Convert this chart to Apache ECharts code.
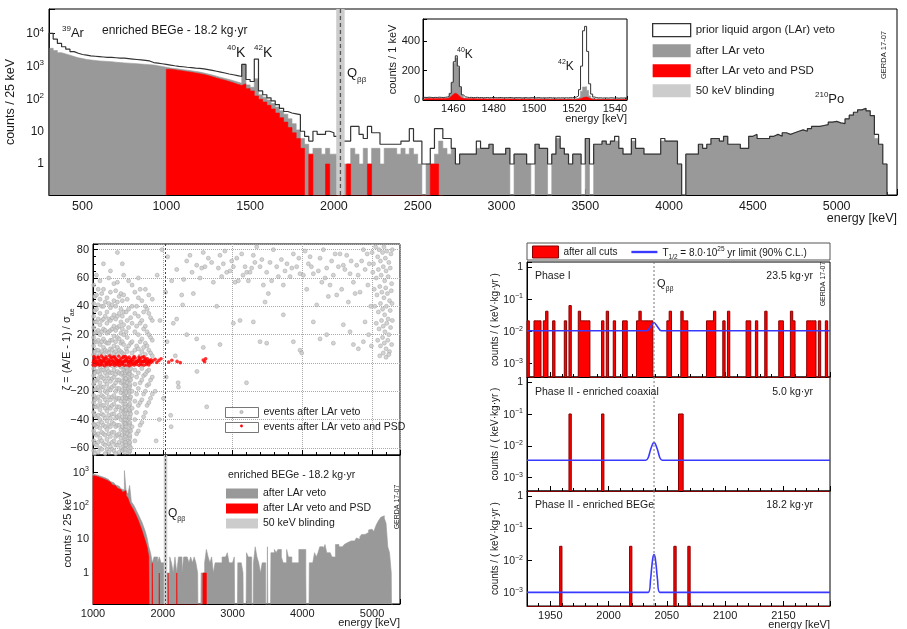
<!DOCTYPE html>
<html><head><meta charset="utf-8">
<script src="https://cdn.jsdelivr.net/npm/echarts@6/dist/echarts.min.js"></script>
<style>html,body{margin:0;padding:0;background:#fff}#c{width:907px;height:629px}</style>
</head><body><div id="c"></div>
<script>
// ---------------- DATA ----------------
// 25 keV bins, bin starts 300 ... 5275 (enriched BEGe, 18.2 kg·yr)
const histStart = 300, histWidth = 25;
const priorCounts = [
 9800,6500,4800,3800, 3200,2700,2400,2200, 2100,2000,1950,1900, 1850,1800,1800,1750,
 1700,1700,1650,1600, 1550,1500,1450,1400, 1250,1200,1150,1100, 1050,1000,960,930,
 900,880,850,830, 800,760,720,680, 640,600,560,530, 500,470,1100,380,
 330,1600,170,130, 105,85,65,50, 40,36,34,32, 10,7,5,10,
 8,8,10,9, 7,0,5,5, 14,14,8,6, 14,9,9,4,
 4,4,4,4, 5,5,12,5, 5,1,1,3, 12,12,6,6,
 3,1,2,2, 2,2,5,3, 3,4,2,2, 2,3,1,2,
 2,2,1,1, 4,3,3,1, 2,7,3,2, 1,2,2,1,
 6,1,4,4, 5,4,5,7, 3,2,2,6, 3,3,2,2,
 2,2,6,5, 5,5,1,0, 2,2,2,4, 3,4,6,6,
 5,7,4,4, 4,3,3,7, 8,6,6,6, 7,8,7,9,
 8,9,10,11, 10,12,14,14, 15,16,19,20, 18,17,24,31,
 38,45,50,42, 30,8,4,1
];
const afterLArCounts = [
 3400,2900,2500,2300, 2100,1900,1750,1650, 1550,1500,1450,1400, 1380,1350,1320,1280,
 1250,1220,1200,1180, 1150,1120,1100,1080, 1050,1000,950,900, 850,820,790,760,
 730,700,670,640, 600,560,520,480, 440,410,380,350, 320,290,1100,260,
 220,400,130,110, 90,70,55,42, 33,24,17,11, 6,4,2,3,
 3,2,3,2, 2,0,1,1, 3,2,1,3, 1,3,3,1,
 3,3,3,2, 3,2,3,2, 1,0,1,1, 2,5,3,2,
 3,1,2,2, 2,2,3,3, 3,4,2,2, 2,3,0,2,
 2,2,1,0, 4,3,3,0, 2,6,3,2, 1,2,2,0,
 6,0,4,4, 5,4,5,5, 3,2,2,5, 3,3,2,2,
 2,2,5,5, 5,5,1,0, 2,2,2,4, 3,4,6,6,
 5,7,4,4, 4,3,3,7, 7,6,6,6, 7,8,7,9,
 8,9,10,11, 10,12,14,14, 15,16,19,20, 18,17,24,31,
 38,45,50,42, 30,6,4,1
];
// after LAr veto and PSD, bin starts 1000 ... 2625
const psdStart = 1000;
const afterPSDCounts = [
 780,750,720,690, 660,630,600,570, 540,500,460,420, 390,360,330,300,
 270,250,280,200, 170,120,95,78, 62,48,36,26, 19,13,9,6,
 3,0,2,0, 0,0,1,0, 0,0,0,1, 0,0,0,0,
 1,0,0,0, 0,0,0,0, 0,0,0,0, 0,0,0,1, 1,0
];
// inset: 1 keV bins, starts 1445 ... 1545
const insetStart = 1445;
const insetPrior = [
 18,17,19,18,16,18,17,19,18,17, 18,20,24,45,120,260,300,230,90,35,
 22,19,17,18,16,17,18,16,17,15, 16,17,15,16,18,16,15,17,16,15,
 16,15,17,16,14,16,15,16,14,15, 16,14,15,16,15,14,16,15,14,15,
 14,15,16,14,15,13,15,14,15,14, 15,14,16,15,17,20,28,70,230,470,
 500,330,110,40,20,16,14,15,13,14, 14,13,15,14,13,14,12,14,13,14,13
];
const insetAfterLAr = [
 11,10,12,11,10,11,10,12,11,10, 11,13,18,40,115,250,285,220,85,30,
 14,12,10,11,10,11,10,9,10,9, 10,9,10,9,10,9,9,10,9,8,
 9,9,10,9,8,9,9,8,9,8, 9,8,9,8,9,8,8,9,8,8,
 8,9,8,8,7,8,8,7,8,8, 7,8,8,7,8,9,12,25,60,88,
 90,65,28,12,8,7,8,7,7,6, 7,6,7,6,7,6,6,7,6,6,6
];
const insetAfterPSD = [
 9,8,10,9,8,9,8,10,9,8, 9,10,14,25,38,46,40,28,15,10,
 9,8,8,9,8,8,7,8,7,7, 7,6,7,6,7,6,6,7,6,6,
 6,5,6,6,5,6,5,5,6,5, 5,5,6,5,5,4,5,5,4,5,
 4,5,4,4,5,4,4,5,4,4, 4,4,5,4,4,5,6,9,14,18,
 20,15,9,5,4,4,3,4,3,3, 3,4,3,3,3,3,2,3,3,3,3
];
const Qbb = 2039;
const blindWindow = [2014, 2064];

// PSD parameter scatter: gray = events after LAr veto (columns: energy, list of zeta)
const grayColumns = [
 [1010,[-62,-55,-48,-43,-35,-28,-23,-15,-9,-4,6,12,18,25,33,42,55]],
 [1025,[-64,-57,-50,-44,-37,-31,-26,-19,-13,-7,-2,8,15,21,29,37,47]],
 [1050,[-58,-51,-45,-38,-31,-25,-18,-12,-6,5,9,15,22,29,38,48,62]],
 [1075,[-63,-56,-50,-43,-37,-30,-24,-17,-11,-6,-1,9,16,23,31,41,52]],
 [1100,[-60,-53,-46,-40,-33,-27,-20,-14,-8,-3,7,13,20,27,35,45,58]],
 [1125,[-61,-55,-49,-42,-36,-30,-23,-17,-10,-5,-1,8,15,22,30,40,49]],
 [1150,[-57,-50,-44,-37,-30,-24,-17,-11,-5,6,11,17,24,31,40,52,70]],
 [1175,[-64,-58,-51,-45,-39,-32,-26,-20,-13,-7,-2,9,15,23,33,43]],
 [1200,[-61,-54,-47,-41,-34,-28,-21,-15,-9,-4,8,14,21,28,36,46]],
 [1225,[-63,-57,-50,-44,-37,-31,-24,-18,-11,-6,-1,7,14,22,31,42,60]],
 [1250,[-59,-52,-45,-39,-32,-26,-19,-13,-7,5,10,16,23,30,39,50,65]],
 [1275,[-61,-56,-49,-42,-36,-30,-24,-17,-11,-7,-2,9,16,24,32,41]],
 [1300,[-62,-55,-49,-43,-36,-29,-23,-16,-10,-5,7,12,19,26,34,44,56]],
 [1325,[-64,-58,-52,-45,-39,-33,-26,-20,-14,-8,-2,8,15,23,31,40,51]],
 [1350,[-58,-51,-44,-38,-31,-25,-18,-12,-6,6,11,18,25,33,43,57,78]],
 [1375,[-63,-56,-50,-44,-37,-31,-25,-18,-12,-7,-1,9,17,26,35,47]],
 [1400,[-60,-53,-47,-40,-34,-27,-21,-14,-8,-3,8,14,21,29,38,49]],
 [1420,[-62,-57,-51,-45,-38,-32,-25,-19,-13,-7,-2,7,15,24,33,44,70]],
 [1440,[-61,-55,-48,-42,-35,-29,-22,-16,-10,-5,6,13,20,27,36,48,62]],
 [1460,[-63,-60,-58,-54,-51,-49,-45,-42,-40,-36,-33,-31,-27,-24,-22,-18,-15,-13,-9,-6,-3]],
 [1466,[-61,-56,-52,-47,-43,-38,-34,-29,-25,-20,-16,-11,-7]],
 [1475,[-58,-45,-33,-21,-11,-3,10,22,36]],
 [1490,[-50,-38,-25,-14,-6,8,18,30,45]],
 [1510,[-55,-42,-30,-18,-8,12,25,38,58]],
 [1521,[-63,-57,-52,-48,-43,-39,-34,-30,-25,-21,-16,-12,-7]],
 [1527,[-62,-59,-56,-53,-51,-47,-44,-42,-38,-35,-33,-29,-26,-24,-20,-17,-15,-11,-8,-5,-2]],
 [1540,[-60,-48,-36,-24,-12,-4,14,32]],
 [1560,[-45,-32,-20,-9,7,15,28,40,55]],
 [1600,[-55,-40,-27,-15,-5,9,22,35,50]],
 [1625,[-50,-35,-22,-10,12,26,40]],
 [1650,[-48,-30,-18,-7,10,20,33,46,60]],
 [1675,[-44,-28,-14,5,15,28,52]],
 [1700,[-42,-26,-12,-4,8,17,30,44]],
 [1725,[-38,-22,-9,11,24,36]],
 [1750,[-35,-20,-8,6,14,26,40,52]],
 [1775,[-30,-16,-6,12,22,38]],
 [1800,[-28,-15,-5,9,20,35,48]],
 [1825,[-25,-12,7,18,32]],
 [1850,[-22,-10,5,16,30,45]]
];
const grayScatterHigh = [
 [2128,58],[2151,28],[2271,48],[2285,41],[2343,72],[2390,76],[2438,49],[2486,69],[2534,60],[2558,67],
 [2605,68],[2653,74],[2725,57],[2797,67],[2820,76],[2844,61],[2868,70],[2916,64],[2964,65],[2988,72],
 [3012,68],[3036,57],[3083,58],[3131,77],[3179,68],[3203,64],[3227,58],[3250,64],[3274,67],[3298,76],
 [3346,82],[3394,68],[3442,55],[3466,43],[3489,64],[3513,49],[3537,71],[3585,80],[3633,68],[3657,61],
 [3728,55],[3752,65],[3824,61],[3872,77],[3919,68],[3967,63],[4015,62],[4063,52],[4087,70],[4111,75],
 [4158,63],[4206,41],[4254,74],[4302,80],[4326,60],[4349,67],[4373,47],[4397,55],[4445,62],[4493,48],
 [4517,68],[4540,77],[4564,52],[4588,69],[4636,76],[4660,43],[4684,63],[4732,57],[4756,49],[4779,69],
 [4827,50],[4875,80],[2200,66],[2300,59],[2420,64],[2580,78],[2700,71],[2890,79],[3060,74],[3150,62],
 [3320,71],[3420,73],[3560,58],[3700,73],[3780,70],[3850,67],[3950,74],[4040,79],[4130,68],[4230,65],
 [4280,57],[4420,72],[4470,77],[4610,66],[4700,72],[4800,62],[4850,72],[4900,66],[4930,77]
];
const grayScatterMid = [
 [2199,31],[2343,20],[2486,17],[2581,11],[2773,40],[2820,13],[3012,28],[3107,30],[3298,29],[3394,15],
 [3489,14],[3728,34],[3872,15],[3967,9],[3991,7],[4158,29],[4254,17],[4349,20],[4445,14],[4588,27],
 [4684,22],[4732,13],[4803,10],[4875,15],[4899,29],[2113,-37],[2220,-14],[2225,-17],[2490,-6],[2630,-31],
 [2120,-45],[3200,-14],[1905,-55],[1950,-40],[2010,-25],[1890,-20],[2050,-10],[2180,5],[2060,15],[1960,30],
 [2040,50],[1920,62],[2070,75],[1990,80]
];
const grayScatterAlpha = [
 [5000,78],[5020,70],[5050,82],[5080,75],[5100,80],[5120,72],[5150,78],[5170,82],[5190,74],[5210,79],[5240,71],[5270,77],[5290,80],
 [5010,64],[5060,60],[5090,66],[5130,62],[5160,68],[5180,58],[5200,65],[5230,61],[5260,67],[5280,56],
 [5030,52],[5070,48],[5110,54],[5140,50],[5170,46],[5195,53],[5220,49],[5250,44],[5275,51],
 [5040,40],[5090,36],[5120,42],[5150,38],[5180,34],[5205,40],[5230,31],[5260,37],[5285,42],
 [5060,28],[5100,24],[5135,30],[5160,26],[5185,22],[5210,28],[5240,20],[5265,25],[5290,30],
 [5080,16],[5120,12],[5150,18],[5175,14],[5200,10],[5225,16],[5250,8],[5280,13],
 [5110,5],[5160,7],[5200,4],[5240,6],[4960,70],[4940,55],[4980,40],[4950,20],[4990,12]
];
const redScatter = [
 [1005,0.5],[1040,2.8],[1075,-0.5],[1110,1.9],[1145,3.6],[1180,0.2],[1215,2.4],[1250,-0.8],[1285,1.5],[1320,3.2],[1355,0.6],[1390,2.1],
 [1425,-0.3],[1460,1.8],[1495,3.4],[1530,0.4],[1565,2.6],[1600,-0.6],[1635,1.4],[1670,3.1],[1705,0.8],[1740,2.2],[1775,-0.2],[1810,1.6],
 [1020,3.5],[1055,-0.2],[1090,2.2],[1125,0.4],[1160,2.9],[1195,-0.7],[1230,1.2],[1265,3.8],[1300,0.1],[1335,2.5],[1370,-0.4],[1405,3.3],
 [1440,0.9],[1475,2.7],[1510,-0.1],[1545,1.3],[1580,3.7],[1615,0.3],[1650,2.0],[1685,-0.5],[1720,1.1],[1755,3.0],[1790,0.7],[1830,2.3],
 [1010,1.8],[1045,0.9],[1080,3.9],[1115,-0.9],[1150,1.5],[1185,3.2],[1220,0.0],[1255,2.7],[1290,4.2],[1325,-0.6],[1360,1.9],[1395,0.5],
 [1430,3.6],[1465,4.5],[1500,1.0],[1535,2.4],[1570,-0.4],[1605,3.5],[1640,0.8],[1675,2.6],[1710,4.0],[1745,1.2],[1780,2.9],[1815,0.0],
 [1000,-1.4],[1030,-1.8],[1060,-1.1],[1095,-1.6],[1130,-1.3],[1165,-1.9],[1200,-1.2],[1240,-1.5],[1275,-1.0],[1310,-1.7],[1345,-1.3],[1380,-1.8],
 [1415,-1.1],[1450,-1.6],[1485,-1.4],[1520,-1.9],[1555,-1.2],[1590,-1.5],[1625,-1.0],[1660,-1.7],[1695,-1.3],[1730,-1.6],[1765,-1.1],[1800,-1.4],
 [1025,1.0],[1060,1.2],[1100,0.9],[1135,1.1],[1170,1.3],[1205,0.8],[1245,1.0],[1280,1.2],[1315,0.9],[1350,1.1],[1385,1.3],[1420,0.8],
 [1455,1.0],[1490,1.2],[1525,0.9],[1560,1.1],[1595,1.3],[1630,0.8],[1665,1.0],[1700,1.2],[1735,0.9],[1770,1.1],[1805,1.3],[1840,0.6],
 [1015,4.6],[1070,4.2],[1120,4.8],[1190,4.4],[1240,4.9],[1310,4.3],[1370,4.7],[1440,4.5],[1520,4.1],[1590,4.6],[1660,4.2],[1730,4.4],
 [1860,1.5],[1890,2.6],[1915,0.4],[1945,1.8],[1975,3.0],[2085,0.6],[2130,1.9],[2205,1.1],[2250,0.2],[2580,2.0],[2600,0.8],[2615,2.9]
];

// ROI 1930-2190 keV, 2 keV bins: [bin start, counts]
const roiStart = 1930, roiEnd = 2190, roiBin = 2;
const phase1Exposure = 23.5, coaxExposure = 5.0, begeExposure = 18.2;
const phase1Events = [[1930,1],[1936,1],[1938,1],[1940,1],[1944,1],[1946,2],[1952,1],[1962,1],[1966,3],[1974,2],[1976,1],[1978,1],
 [1980,1],[1982,1],[1994,1],[1998,2],[2004,1],[2012,1],[2014,1],[2024,1],[2026,2],[2028,1],[2030,1],[2032,1],[2034,1],[2036,1],
 [2050,1],[2052,2],[2062,2],[2064,1],[2066,1],[2084,1],[2086,1],[2088,1],[2090,2],[2098,1],[2102,2],[2118,1],[2120,1],[2126,1],
 [2134,2],[2146,1],[2148,1],[2156,2],[2158,1],[2170,1],[2172,1],[2174,1],[2176,1],[2180,1],[2186,1]];
const coaxEvents = [[1966,1],[1994,1],[2060,1],[2062,1]];
const begeEvents = [[1958,1],[2018,1],[2056,1],[2068,1]];
const phase1Limit = [[1930,0.0105],[2033,0.0105],[2036,0.014],[2039,0.019],[2042,0.014],[2045,0.0105],[2190,0.0105]];
const coaxLimit = [[1930,0.0035],[2032,0.0035],[2034,0.0042],[2036,0.0075],[2038,0.0118],[2039,0.0125],[2040,0.0118],[2042,0.0075],[2044,0.0042],[2046,0.0035],[2190,0.0035]];
const begeLimit = [[1930,0.00101],[2034,0.00101],[2036,0.0025],[2037,0.006],[2038,0.012],[2039,0.0152],[2040,0.012],[2041,0.006],[2042,0.0025],[2044,0.00101],[2190,0.00101]];

// ---------------- HELPERS ----------------
const FONT = '"Liberation Sans", Arial, Helvetica, sans-serif';
const TXT = '#1a1a1a';
const GRAY = '#999999', RED = '#ff0000', DARKRED = '#8b0000', LIGHT = '#cccccc', BLUE = '#3a3aff';
const TINY = 1e-7;

function stepPoints(start, width, values, zero) {
  const pts = [[start, zero]];
  for (let i = 0; i < values.length; i++) pts.push([start + i * width, values[i] > 0 ? values[i] : zero]);
  const end = start + values.length * width;
  const last = values[values.length - 1];
  pts.push([end, last > 0 ? last : zero]);
  pts.push([end, zero]);
  return pts;
}
function denseRoi(events, exposure) {
  const n = (roiEnd - roiStart) / roiBin;
  const arr = new Array(n).fill(0);
  events.forEach(([x, c]) => { arr[Math.round((x - roiStart) / roiBin)] = c / (roiBin * exposure); });
  return arr;
}
function isObj(o){return o && typeof o === 'object' && !Array.isArray(o);}
function merge(a, b) { const r = Object.assign({}, a); for (const k in b) { r[k] = (isObj(a[k]) && isObj(b[k])) ? merge(a[k], b[k]) : b[k]; } return r; }

function powLabel(v) {
  const l = Math.log10(v), e = Math.round(l);
  if (Math.abs(l - e) > 1e-6) return '';
  if (e === 0) return '1';
  if (e === 1) return '10';
  return '{b|10}{s|' + (e < 0 ? '\u2212' + (-e) : e) + '}';
}
function powRich(fs) {
  return { b: { fontSize: fs, fontFamily: FONT, color: TXT, lineHeight: fs + 2, padding: [3, 0, 0, 0], verticalAlign: 'bottom' },
           s: { fontSize: Math.round(fs * 0.68), fontFamily: FONT, color: TXT, lineHeight: Math.round(fs * 0.68), verticalAlign: 'top' } };
}
const baseAxis = {
  axisLine: { show: true, onZero: false, lineStyle: { color: '#000', width: 1 } },
  axisTick: { show: true, inside: true, length: 6, lineStyle: { color: '#000', width: 1 } },
  splitLine: { show: false },
  axisLabel: { color: TXT, fontFamily: FONT, fontSize: 12, margin: 5, interval: 0, hideOverlap: false },
  nameTextStyle: { color: TXT, fontFamily: FONT, fontSize: 12 },
  nameMoveOverlap: false
};
function xAx(o) { return merge(merge(baseAxis, { type: 'value', position: 'bottom' }), o); }
function yAx(o) { return merge(merge(baseAxis, { position: 'left' }), o); }
function grid(l, t, w, h, extra) { return Object.assign({ left: l, top: t, width: w, height: h, show: true, borderColor: '#000', borderWidth: 1, backgroundColor: 'transparent', containLabel: false, outerBoundsMode: 'none' }, extra || {}); }

function bandSeries(xi, yi, name) {
  return { type: 'custom', name: name, xAxisIndex: xi, yAxisIndex: yi, z: 6, silent: true,
    data: [[blindWindow[0], blindWindow[1]]],
    renderItem(params, api) {
      const cs = params.coordSys;
      const a = api.coord([api.value(0), 1]), b = api.coord([api.value(1), 1]);
      const x0 = Math.max(a[0], cs.x), x1 = Math.min(b[0], cs.x + cs.width);
      return { type: 'rect', shape: { x: x0, y: cs.y, width: x1 - x0, height: cs.height }, style: { fill: LIGHT } };
    } };
}
function vLineSeries(xi, yi, color, dash, width) {
  return { type: 'custom', name: 'Qbb', xAxisIndex: xi, yAxisIndex: yi, z: 7, silent: true,
    data: [[Qbb, 1]],
    renderItem(params, api) {
      const cs = params.coordSys; const p = api.coord([api.value(0), 1]);
      return { type: 'line', shape: { x1: p[0], y1: cs.y, x2: p[0], y2: cs.y + cs.height }, style: { stroke: color, lineWidth: width, lineDash: dash } };
    } };
}
function areaHist(name, xi, yi, pts, color, z) {
  return { type: 'line', name: name, xAxisIndex: xi, yAxisIndex: yi, step: 'end', data: pts, symbol: 'none', showSymbol: false,
    lineStyle: { color: color, width: 0.6 }, itemStyle: { color: color }, areaStyle: { color: color, opacity: 1, origin: 'start' }, z: z, clip: true, silent: true };
}
function lineHist(name, xi, yi, pts, color, width, z) {
  return { type: 'line', name: name, xAxisIndex: xi, yAxisIndex: yi, step: 'end', data: pts, symbol: 'none', showSymbol: false,
    lineStyle: { color: color, width: width }, itemStyle: { color: color }, z: z, clip: true, silent: true };
}

// ---------------- BUILD ----------------
const N_PRIOR = 'prior liquid argon (LAr) veto', N_LAR = 'after LAr veto', N_PSD = 'after LAr veto and PSD', N_BLIND = '50 keV blinding';
const N_CUTS = 'after all cuts', N_LIM = 'T1/2 = 8.0\u00b710^25 yr limit (90% C.L.)';

const grayScatter = [];
grayColumns.forEach(([x, ys]) => ys.forEach(y => grayScatter.push([x, y])));
grayScatterHigh.concat(grayScatterMid, grayScatterAlpha).forEach(p => grayScatter.push(p));

const topY = { min: 0.113, max: 54000 };
const blY = { min: 0.12, max: 3200 };
const roiY = { min: 0.00038, max: 1.45 };

const grids = [
  grid(49, 9, 848, 186),           // 0 top spectrum
  grid(423, 19, 204, 81, { backgroundColor: '#fff', z: 10 }), // 1 inset
  grid(93, 244, 307, 211),         // 2 scatter
  grid(93, 455, 307, 149),         // 3 BL hist
  grid(527, 262, 303, 115),        // 4 phase I
  grid(527, 377, 303, 114),        // 5 coax
  grid(527, 491, 303, 115)         // 6 BEGe
];

const xAxes = [
  xAx({ gridIndex: 0, min: 300, max: 5360, splitNumber: 10, minorTick: { show: true, splitNumber: 5, length: 3, lineStyle: { color: '#000' } },
        axisLabel: { formatter: v => (v % 500 === 0 ? String(v) : ''), fontSize: 12.5 },
        name: 'energy [keV]', nameLocation: 'end', nameGap: 0, nameTextStyle: { align: 'right', verticalAlign: 'top', padding: [17, 0, 0, 0], fontSize: 12.5 } }),
  xAx({ gridIndex: 1, min: 1445, max: 1546, splitNumber: 5, z: 11, minorTick: { show: true, splitNumber: 4, length: 2, lineStyle: { color: '#000' } },
        axisTick: { length: 4 }, axisLabel: { formatter: v => (v % 20 === 0 ? String(v) : ''), fontSize: 11, margin: 3 },
        name: 'energy [keV]', nameLocation: 'end', nameGap: 0, nameTextStyle: { align: 'right', verticalAlign: 'top', padding: [13, 0, 0, 0], fontSize: 11 } }),
  xAx({ gridIndex: 2, min: 1000, max: 5400, splitNumber: 4, axisLabel: { show: false }, axisTick: { length: 5 },
        minorTick: { show: true, splitNumber: 5, length: 3, lineStyle: { color: '#000' } },
        splitLine: { show: true, lineStyle: { color: '#aaa', type: 'dotted', width: 1 } } }),
  xAx({ gridIndex: 3, min: 1000, max: 5400, splitNumber: 4, axisTick: { length: 5 },
        minorTick: { show: true, splitNumber: 5, length: 3, lineStyle: { color: '#000' } },
        axisLabel: { formatter: v => (v % 1000 === 0 ? String(v) : ''), fontSize: 11, margin: 4 },
        name: 'energy [keV]', nameLocation: 'end', nameGap: 0, nameTextStyle: { align: 'right', verticalAlign: 'top', padding: [13, 0, 0, 0], fontSize: 11 } }),
  xAx({ gridIndex: 4, min: roiStart, max: roiEnd, splitNumber: 5, axisLabel: { show: false }, axisTick: { length: 5 }, minorTick: { show: true, splitNumber: 5, length: 3, lineStyle: { color: '#000' } } }),
  xAx({ gridIndex: 5, min: roiStart, max: roiEnd, splitNumber: 5, axisLabel: { show: false }, axisTick: { length: 5 }, minorTick: { show: true, splitNumber: 5, length: 3, lineStyle: { color: '#000' } } }),
  xAx({ gridIndex: 6, min: roiStart, max: roiEnd, splitNumber: 5, axisTick: { length: 5 }, minorTick: { show: true, splitNumber: 5, length: 3, lineStyle: { color: '#000' } },
        axisLabel: { formatter: v => (v % 50 === 0 ? String(v) : ''), fontSize: 11, margin: 4 },
        name: 'energy [keV]', nameLocation: 'end', nameGap: 0, nameTextStyle: { align: 'right', verticalAlign: 'top', padding: [13, 0, 0, 0], fontSize: 11 } })
];

const yAxes = [
  yAx({ gridIndex: 0, type: 'log', logBase: 10, min: topY.min, max: topY.max, axisLabel: { formatter: powLabel, rich: powRich(12), fontSize: 12 },
        name: 'counts / 25 keV', nameLocation: 'middle', nameRotate: 90, nameGap: 32, nameTextStyle: { fontSize: 12.5 } }),
  yAx({ gridIndex: 1, type: 'value', min: 0, max: 550, splitNumber: 3, z: 11, axisTick: { length: 4 },
        axisLabel: { formatter: v => (v % 200 === 0 ? String(v) : ''), fontSize: 11, margin: 3 },
        name: 'counts / 1 keV', nameLocation: 'middle', nameRotate: 90, nameGap: 25, nameTextStyle: { fontSize: 11 } }),
  yAx({ gridIndex: 2, type: 'value', min: -65, max: 84, splitNumber: 7, axisTick: { length: 5 },
        minorTick: { show: true, splitNumber: 4, length: 3, lineStyle: { color: '#000' } },
        splitLine: { show: true, lineStyle: { color: '#aaa', type: 'dotted', width: 1 } },
        axisLabel: { formatter: v => (v % 20 === 0 ? (v < 0 ? '\u2212' + (-v) : String(v)) : ''), fontSize: 11, margin: 4 },
        name: '{n|\u03b6 = (A/E - 1) / \u03c3}{sub|ae}', nameLocation: 'middle', nameRotate: 90, nameGap: 20,
        nameTextStyle: { fontSize: 11, rich: { n: { fontSize: 11, fontFamily: FONT, color: TXT, lineHeight: 12, verticalAlign: 'top' }, sub: { fontSize: 7, fontFamily: FONT, color: TXT, lineHeight: 7, padding: [8, 0, 0, 0], verticalAlign: 'top' } } } }),
  yAx({ gridIndex: 3, type: 'log', logBase: 10, min: blY.min, max: blY.max, axisTick: { length: 5 }, axisLabel: { formatter: powLabel, rich: powRich(11), fontSize: 11, margin: 4 },
        name: 'counts / 25 keV', nameLocation: 'middle', nameRotate: 90, nameGap: 20, nameTextStyle: { fontSize: 11 } }),
  ...[4, 5, 6].map(gi => yAx({ gridIndex: gi, type: 'log', logBase: 10, min: roiY.min, max: roiY.max, axisTick: { length: 5 },
        axisLabel: { formatter: powLabel, rich: powRich(10.5), fontSize: 10.5, margin: 4 },
        name: 'counts / ( keV\u00b7kg\u00b7yr )', nameLocation: 'middle', nameRotate: 90, nameGap: 27, nameTextStyle: { fontSize: 10 } }))
];

const series = [
  // top spectrum
  areaHist(N_LAR, 0, 0, stepPoints(histStart, histWidth, afterLArCounts, TINY), GRAY, 2),
  areaHist(N_PSD, 0, 0, stepPoints(psdStart, histWidth, afterPSDCounts, TINY), RED, 3),
  lineHist(N_PRIOR, 0, 0, stepPoints(histStart, histWidth, priorCounts, TINY), '#333', 1.2, 4),
  bandSeries(0, 0, N_BLIND),
  vLineSeries(0, 0, '#555', [4, 3], 1.3),
  // inset
  areaHist(N_LAR, 1, 1, stepPoints(insetStart, 1, insetAfterLAr, 0), GRAY, 12),
  areaHist(N_PSD, 1, 1, stepPoints(insetStart, 1, insetAfterPSD, 0), RED, 13),
  lineHist(N_PRIOR, 1, 1, stepPoints(insetStart, 1, insetPrior, 0), '#333', 1, 14),
  // scatter
  { type: 'scatter', name: 'events after LAr veto', xAxisIndex: 2, yAxisIndex: 2, data: grayScatter, symbol: 'circle', symbolSize: 4,
    itemStyle: { color: '#c9c9c9', borderColor: '#a0a0a0', borderWidth: 0.6 }, z: 2, silent: true, clip: true },
  { type: 'scatter', name: 'events after LAr veto and PSD', xAxisIndex: 2, yAxisIndex: 2, data: redScatter, symbol: 'circle', symbolSize: 3.6,
    itemStyle: { color: RED }, z: 3, silent: true, clip: true },
  vLineSeries(2, 2, '#444', [2, 2], 1),
  // bottom-left histogram
  areaHist(N_LAR, 3, 3, stepPoints(histStart, histWidth, afterLArCounts, TINY), GRAY, 2),
  areaHist(N_PSD, 3, 3, stepPoints(psdStart, histWidth, afterPSDCounts, TINY), RED, 3),
  bandSeries(3, 3, N_BLIND),
  vLineSeries(3, 3, '#444', [2, 2], 1),
  // ROI panels
  areaHist(N_CUTS, 4, 4, stepPoints(roiStart, roiBin, denseRoi(phase1Events, phase1Exposure), TINY), RED, 3),
  areaHist(N_CUTS, 5, 5, stepPoints(roiStart, roiBin, denseRoi(coaxEvents, coaxExposure), TINY), RED, 3),
  areaHist(N_CUTS, 6, 6, stepPoints(roiStart, roiBin, denseRoi(begeEvents, begeExposure), TINY), RED, 3),
  ...[[4, phase1Limit], [5, coaxLimit], [6, begeLimit]].map(([i, d]) => ({ type: 'line', name: N_LIM, xAxisIndex: i, yAxisIndex: i, data: d, symbol: 'none', showSymbol: false, smooth: 0.25,
     lineStyle: { color: BLUE, width: 1.6 }, itemStyle: { color: BLUE }, z: 5, silent: true, clip: true })),
  vLineSeries(4, 4, '#777', [2, 2], 1), vLineSeries(5, 5, '#777', [2, 2], 1), vLineSeries(6, 6, '#777', [2, 2], 1)
];
// dark red outline for ROI bars
series.forEach(s => { if (s.name === N_CUTS) { s.lineStyle = { color: DARKRED, width: 1 }; } });

const legTxt = (fs) => ({ color: TXT, fontFamily: FONT, fontSize: fs });
const legends = [
  { orient: 'vertical', left: 652, top: 23, itemWidth: 38, itemHeight: 13, itemGap: 7, selectedMode: false, padding: 0, textStyle: legTxt(11.5),
    data: [ { name: N_PRIOR, icon: 'rect', itemStyle: { color: '#fff', borderColor: '#333', borderWidth: 1.3 } },
            { name: N_LAR, icon: 'rect', itemStyle: { color: GRAY, borderWidth: 0 } },
            { name: N_PSD, icon: 'rect', itemStyle: { color: RED, borderWidth: 0 } },
            { name: N_BLIND, icon: 'rect', itemStyle: { color: LIGHT, borderWidth: 0 } } ] },
  { orient: 'vertical', left: 225, top: 407, itemWidth: 33, itemHeight: 10, itemGap: 4, selectedMode: false, padding: 0, textStyle: legTxt(10.5),
    data: [ { name: 'events after LAr veto', icon: 'rect', itemStyle: { color: '#fff', borderColor: '#555', borderWidth: 1 } },
            { name: 'events after LAr veto and PSD', icon: 'rect', itemStyle: { color: '#fff', borderColor: '#555', borderWidth: 1 } } ] },
  { orient: 'vertical', left: 226, top: 488, itemWidth: 32, itemHeight: 10, itemGap: 4, selectedMode: false, padding: 0, textStyle: legTxt(10.5),
    data: [ { name: N_LAR, icon: 'rect', itemStyle: { color: GRAY, borderWidth: 0 } },
            { name: N_PSD, icon: 'rect', itemStyle: { color: RED, borderWidth: 0 } },
            { name: N_BLIND, icon: 'rect', itemStyle: { color: LIGHT, borderWidth: 0 } } ] },
  { orient: 'horizontal', left: 532, top: 245, itemWidth: 26, itemHeight: 12, itemGap: 14, selectedMode: false, padding: 0,
    textStyle: Object.assign(legTxt(10), { rich: { n: { fontSize: 10, fontFamily: FONT, color: TXT, lineHeight: 12, verticalAlign: 'bottom', padding: [3,0,0,0] },
                                                  sb: { fontSize: 6.5, fontFamily: FONT, color: TXT, lineHeight: 7, padding: [8,0,0,0], verticalAlign: 'top' },
                                                  sp: { fontSize: 6.5, fontFamily: FONT, color: TXT, lineHeight: 7, verticalAlign: 'top' } } }),
    formatter: name => name === N_LIM ? '{n|T}{sb|1/2}{n| = 8.0\u00b710}{sp|25}{n| yr limit (90% C.L.)}' : name,
    data: [ { name: N_CUTS, icon: 'rect', itemStyle: { color: RED, borderColor: DARKRED, borderWidth: 1 } },
            { name: N_LIM, icon: 'path://M0,0 L22,0 L22,2 L0,2 Z', itemStyle: { color: BLUE, borderWidth: 0 } } ] }
];

// annotation texts
function rt(x, y, text, rich, align, vAlign, extra) {
  return Object.assign({ type: 'text', x: x, y: y, z: 50, silent: true,
    style: { text: text, rich: rich, fill: TXT, font: '12px ' + FONT, align: align || 'left', verticalAlign: vAlign || 'middle' } }, extra || {});
}
function R(big, small) {
  return { n: { fontSize: big, fontFamily: FONT, fill: TXT, color: TXT, lineHeight: big + 2, padding: [Math.round(big * 0.3), 0, 0, 0], verticalAlign: 'bottom' },
           s: { fontSize: small, fontFamily: FONT, fill: TXT, color: TXT, lineHeight: small, verticalAlign: 'top' },
           q: { fontSize: big, fontFamily: FONT, fill: TXT, color: TXT, lineHeight: big + 1, verticalAlign: 'top' },
           sub: { fontSize: small, fontFamily: FONT, fill: TXT, color: TXT, lineHeight: small, padding: [Math.round(big * 0.7), 0, 0, 0], verticalAlign: 'top' },
           t: { fontSize: big, fontFamily: FONT, fill: TXT, color: TXT } };
}
function plain(x, y, text, fs, align, extra) {
  return Object.assign({ type: 'text', x: x, y: y, z: 50, silent: true,
    style: { text: text, fill: TXT, font: fs + 'px ' + FONT, align: align || 'left', verticalAlign: 'middle' } }, extra || {});
}
const graphics = [
  rt(62, 32, '{s|39}{n|Ar}', R(13, 8)),
  plain(102, 31, 'enriched BEGe - 18.2 kg\u00b7yr', 12),
  rt(227, 52, '{s|40}{n|K}', R(14, 8)),
  rt(254, 52, '{s|42}{n|K}', R(14, 8)),
  rt(347, 74, '{q|Q}{sub|\u03b2\u03b2}', R(13, 8)),
  rt(815, 98, '{s|210}{n|Po}', R(13, 8)),
  rt(457, 54, '{s|40}{n|K}', R(12, 7), 'left', 'middle', { z: 60 }),
  rt(558, 66, '{s|42}{n|K}', R(12, 7), 'left', 'middle', { z: 60 }),
  plain(884, 55, 'GERDA 17-07', 7.5, 'center', { rotation: Math.PI / 2 }),
  rt(168, 514, '{q|Q}{sub|\u03b2\u03b2}', R(12, 7)),
  plain(228, 475, 'enriched BEGe - 18.2 kg\u00b7yr', 10.5),
  plain(397, 507, 'GERDA 17-07', 7, 'center', { rotation: Math.PI / 2 }),
  plain(535, 276, 'Phase I', 10.5),
  plain(813, 276, '23.5 kg\u00b7yr', 10.5, 'right'),
  rt(657, 284, '{q|Q}{sub|\u03b2\u03b2}', R(11, 7)),
  plain(823, 284, 'GERDA 17-07', 7, 'center', { rotation: Math.PI / 2 }),
  plain(535, 392, 'Phase II - enriched coaxial', 10.5),
  plain(813, 392, '5.0 kg\u00b7yr', 10.5, 'right'),
  plain(535, 505, 'Phase II - enriched BEGe', 10.5),
  plain(813, 505, '18.2 kg\u00b7yr', 10.5, 'right'),
  { type: 'rect', z: 1, silent: true, shape: { x: 527, y: 243, width: 303, height: 17 }, style: { fill: '#fff', stroke: '#555', lineWidth: 1 } },
  { type: 'circle', z: 60, silent: true, shape: { cx: 241.5, cy: 412, r: 1.6 }, style: { fill: '#ccc', stroke: '#999', lineWidth: 0.6 } },
  { type: 'circle', z: 60, silent: true, shape: { cx: 241.5, cy: 426, r: 1.4 }, style: { fill: RED } }
];

const chart = echarts.init(document.getElementById('c'), null, { renderer: 'canvas' });
chart.setOption({
  animation: false,
  backgroundColor: '#fff',
  textStyle: { fontFamily: FONT },
  grid: grids, xAxis: xAxes, yAxis: yAxes, legend: legends, series: series, graphic: graphics
});
</script></body></html>
